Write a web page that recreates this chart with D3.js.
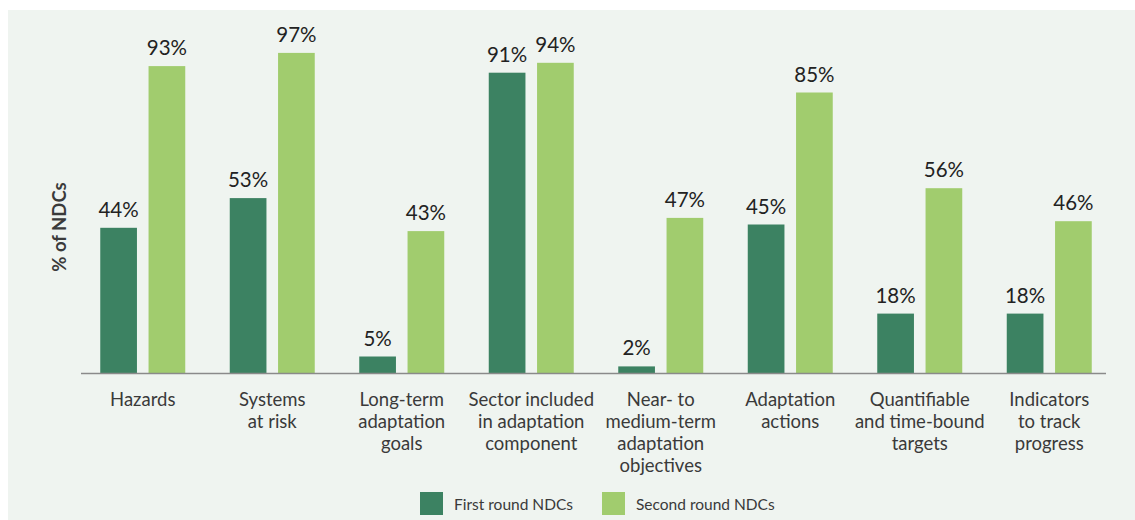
<!DOCTYPE html>
<html>
<head>
<meta charset="utf-8">
<script src="https://cdn.jsdelivr.net/npm/d3@7"></script>
<style>
  html, body { margin: 0; padding: 0; background: #ffffff; }
  svg { display: block; }
  text { font-family: Lato, "Open Sans", sans-serif; }
</style>
</head>
<body>
<svg id="chart" width="1135" height="520"></svg>
<script>
const categories = [
  ["Hazards"],
  ["Systems", "at risk"],
  ["Long-term", "adaptation", "goals"],
  ["Sector included", "in adaptation", "component"],
  ["Near- to", "medium-term", "adaptation", "objectives"],
  ["Adaptation", "actions"],
  ["Quantifiable", "and time-bound", "targets"],
  ["Indicators", "to track", "progress"]
];
const firstRound = [44, 53, 5, 91, 2, 45, 18, 18];
const secondRound = [93, 97, 43, 94, 47, 85, 56, 46];
const seriesNames = ["First round NDCs", "Second round NDCs"];
const yAxisTitle = "% of NDCs";

const colors = ["#3c8262", "#a1cc6e"];

const svg = d3.select("#chart");

svg.append("rect").attr("x", 8).attr("y", 10).attr("width", 1127).attr("height", 510).attr("fill", "#eff4f0");

const x = d3.scaleBand().domain(d3.range(categories.length)).range([78, 1114]).padding(0);
const y = d3.scaleLinear().domain([0, 100]).range([373, 43]);
const inner = d3.scaleBand().domain([0, 1]).range([-42.5, 42.5]).paddingInner(0.24);

const series = [firstRound, secondRound];

const g = svg.append("g");
series.forEach((vals, si) => {
  const grp = g.append("g");
  grp.selectAll("rect").data(vals).enter().append("rect")
    .attr("x", (d, i) => x(i) + x.bandwidth() / 2 + inner(si))
    .attr("width", inner.bandwidth())
    .attr("y", d => y(d))
    .attr("height", d => y(0) - y(d))
    .attr("fill", colors[si]);
  grp.selectAll("text").data(vals).enter().append("text")
    .attr("x", (d, i) => x(i) + x.bandwidth() / 2 + inner(si) + inner.bandwidth() / 2)
    .attr("y", d => y(d) - 11)
    .attr("text-anchor", "middle")
    .attr("font-size", 20.5)
    .attr("fill", "#222")
    .text(d => d + "%");
});

// baseline
svg.append("line").attr("x1", 81).attr("x2", 1106).attr("y1", y(0) + 0.5).attr("y2", y(0) + 0.5)
  .attr("stroke", "#8a8a8a").attr("stroke-width", 1.5);

// category labels
const cl = svg.append("g");
categories.forEach((lines, i) => {
  const t = cl.append("text")
    .attr("text-anchor", "middle")
    .attr("font-size", 18.5)
    .attr("fill", "#3a3a3a");
  lines.forEach((ln, j) => {
    t.append("tspan").attr("x", x(i) + x.bandwidth() / 2).attr("y", 406 + j * 22).text(ln);
  });
});

// y axis title
svg.append("text")
  .attr("transform", "translate(66,227) rotate(-90)")
  .attr("text-anchor", "middle")
  .attr("font-size", 18.5)
  .attr("font-weight", "bold")
  .attr("fill", "#3a3a3a")
  .text(yAxisTitle);

// legend
const legendX = [420, 602];
seriesNames.forEach((name, i) => {
  svg.append("rect").attr("x", legendX[i]).attr("y", 492).attr("width", 23).attr("height", 23).attr("fill", colors[i]);
  svg.append("text").attr("x", legendX[i] + 34).attr("y", 510)
    .attr("font-size", 15.5).attr("fill", "#3a3a3a").text(name);
});
</script>
</body>
</html>
